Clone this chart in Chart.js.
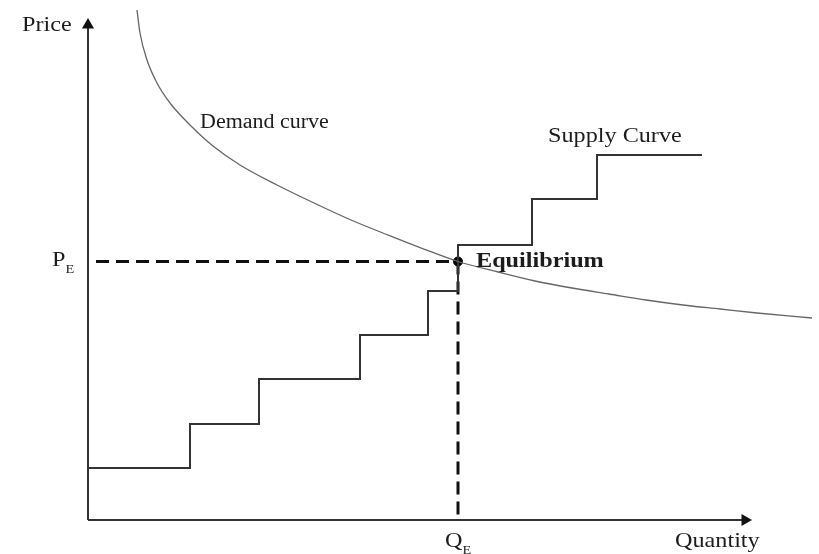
<!DOCTYPE html>
<html>
<head>
    <meta charset="UTF-8">
    <title>Supply and Demand Equilibrium</title>
    <script src="https://cdn.jsdelivr.net/npm/chart.js"></script>
    <style>
        body { margin: 0; background: white; }
        #chart-wrap { width: 819px; height: 554px; }
    </style>
</head>
<body>
<div id="chart-wrap"><canvas id="marketChart" width="819" height="554"></canvas></div>
<script>
// demand curve (quantity, price)
const demandQ = [4.9, 5.2, 5.9, 6.9, 8.2, 10.2, 12.5, 15.2, 18.9, 22.6, 26.3, 30.0, 33.65, 37.0, 41.0, 44.7, 48.4, 52.1, 55.8, 59.5, 63.2, 66.9, 72.4];
const demandP = [51.0, 48.7, 46.0, 43.7, 41.7, 39.5, 37.4, 35.5, 33.5, 31.7, 30.0, 28.5, 27.07, 25.85, 24.8, 23.9, 23.2, 22.6, 22.0, 21.5, 21.1, 20.7, 20.2];

// supply steps: each point starts a new price level
const supplyQ = [0, 10.2, 17.1, 27.2, 34.0, 37.0, 44.4, 50.9, 61.4];
const supplyP = [5.2, 9.6, 14.1, 18.5, 22.9, 27.5, 32.1, 36.5, 36.5];

// equilibrium
const eqQ = 37.0;
const eqP = 25.85;

// axis extents
const xMax = 73.1;
const yMax = 52;
const xArrow = 65.7;
const yArrow = 49.5;

function toPoints(xs, ys) {
    return xs.map((x, i) => ({ x: x, y: ys[i] }));
}

// text labels, anchored in data units
const labels = [
    { text: 'Price', x: -6.6, y: 48.9, size: 22 },
    { text: 'Demand curve', x: 11.2, y: 39.2, size: 20 },
    { text: 'Supply Curve', x: 46.0, y: 37.8, size: 22 },
    { text: 'Equilibrium', x: 38.8, y: 25.3, size: 22, bold: true },
    { text: 'P', sub: 'E', x: -3.6, y: 25.4, size: 22 },
    { text: 'Q', sub: 'E', x: 35.7, y: -2.7, size: 22 },
    { text: 'Quantity', x: 58.7, y: -2.7, size: 22 }
];

const labelPlugin = {
    id: 'labelPlugin',
    afterDatasetsDraw(chart) {
        const ctx = chart.ctx;
        const xs = chart.scales.x, ys = chart.scales.y;
        const stretch = 1.1;
        labels.forEach(l => {
            const px = xs.getPixelForValue(l.x);
            const py = ys.getPixelForValue(l.y);
            ctx.save();
            ctx.fillStyle = '#1c1c1c';
            ctx.textBaseline = 'alphabetic';
            ctx.font = (l.bold ? 'bold ' : '') + l.size + 'px "Liberation Serif", serif';
            ctx.translate(px, py);
            ctx.scale(stretch, 1);
            ctx.fillText(l.text, 0, 0);
            if (l.sub) {
                const w = ctx.measureText(l.text).width;
                ctx.font = '13px "Liberation Serif", serif';
                ctx.fillText(l.sub, w, 7);
            }
            ctx.restore();
        });
    }
};

new Chart(document.getElementById('marketChart'), {
    type: 'scatter',
    data: {
        datasets: [
            {
                label: 'Demand curve',
                data: toPoints(demandQ, demandP),
                showLine: true,
                borderColor: '#666',
                borderWidth: 1.3,
                pointRadius: 0,
                cubicInterpolationMode: 'monotone'
            },
            {
                label: 'Supply Curve',
                data: toPoints(supplyQ, supplyP),
                showLine: true,
                stepped: 'before',
                borderColor: '#333',
                borderWidth: 2,
                pointRadius: 0
            },
            {
                label: 'P_E guide',
                data: [{ x: 0.8, y: eqP }, { x: eqQ, y: eqP }],
                showLine: true,
                borderColor: '#111',
                borderWidth: 3,
                borderDash: [13, 7],
                pointRadius: 0
            },
            {
                label: 'Q_E guide',
                data: [{ x: eqQ, y: eqP }, { x: eqQ, y: 0 }],
                showLine: true,
                borderColor: '#111',
                borderWidth: 3,
                borderDash: [13, 7],
                pointRadius: 0
            },
            {
                label: 'Equilibrium',
                data: [{ x: eqQ, y: eqP }],
                pointRadius: 4.5,
                backgroundColor: '#000',
                borderColor: '#000'
            },
            {
                label: 'Price axis',
                data: [{ x: 0, y: 0 }, { x: 0, y: yArrow }],
                showLine: true,
                borderColor: '#333',
                backgroundColor: '#111',
                borderWidth: 2,
                pointStyle: 'triangle',
                pointRadius: [0, 7],
                pointBorderWidth: 0,
                clip: false
            },
            {
                label: 'Quantity axis',
                data: [{ x: 0, y: 0 }, { x: xArrow, y: 0 }],
                showLine: true,
                borderColor: '#333',
                backgroundColor: '#111',
                borderWidth: 2,
                pointStyle: 'triangle',
                pointRotation: 90,
                pointRadius: [0, 7],
                pointBorderWidth: 0,
                clip: false
            }
        ]
    },
    options: {
        responsive: false,
        animation: false,
        layout: { autoPadding: false, padding: { left: 88, right: 0, top: 0, bottom: 34 } },
        plugins: {
            legend: { display: false },
            tooltip: { enabled: false }
        },
        scales: {
            x: { type: 'linear', min: 0, max: xMax, display: false },
            y: { type: 'linear', min: 0, max: yMax, display: false }
        }
    },
    plugins: [labelPlugin]
});
</script>
</body>
</html>
